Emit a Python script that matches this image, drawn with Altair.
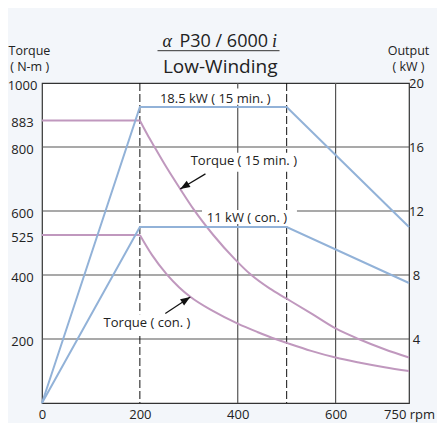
import altair as alt
import pandas as pd

# ---- data ----
rpm_t15 = [0, 200, 215, 230, 255, 282, 310, 350, 395, 426, 465, 500, 550, 600, 647, 700, 750]
nm_t15 = [883, 883, 840, 800, 735, 670, 605, 525, 448, 402, 358, 326, 280, 233, 200, 168, 142]

rpm_tcon = [0, 200, 225, 255, 280, 303, 350, 400, 440, 477, 500, 550, 600, 650, 700, 750]
nm_tcon = [525, 525, 462, 402, 362, 332, 287, 248, 222, 200, 188, 163, 142, 126, 112, 100]

rpm_out = [0, 200, 500, 750]
kw_out15 = [0, 18.5, 18.5, 11]
kw_outcon = [0, 11, 11, 7.5]

torque_ticks = [200, 400, 525, 600, 800, 883, 1000]
output_ticks = [4, 8, 12, 16, 20]
rpm_ticks = [0, 200, 400, 600, 750]

grid_torque = [200, 400, 600, 800]
grid_rpm_solid = [400, 600]
grid_rpm_dashed = [200, 500]

ann_labels = ["18.5 kW ( 15 min. )", "Torque ( 15 min. )", "11 kW ( con. )", "Torque ( con. )"]
ann_rpm = [354, 412.5, 419, 214.5]
ann_nm = [939, 743, 567, 237]

box_rpm1 = [231, 295, 327, 115]
box_rpm2 = [479, 530, 521, 313]
box_nm1 = [983, 782, 603, 277]
box_nm2 = [932, 723, 559, 218]

arr_rpm_tail = [334, 252]
arr_nm_tail = [716, 280]
arr_rpm_head = [282.5, 303]
arr_nm_head = [669, 331]
arr_angle = [238.5, 57]

BLUE = "#92b2d8"
PINK = "#c098be"
INK = "#222222"
FONT = "Open Sans"

xs = alt.Scale(domain=[0, 750], nice=False, zero=False)
ys = alt.Scale(domain=[0, 1000], nice=False, zero=False)
os_ = alt.Scale(domain=[0, 20], nice=False, zero=False)

df_t15 = pd.DataFrame({"rpm": rpm_t15, "nm": nm_t15})
df_tcon = pd.DataFrame({"rpm": rpm_tcon, "nm": nm_tcon})
df_o15 = pd.DataFrame({"rpm": rpm_out, "kw": kw_out15})
df_ocon = pd.DataFrame({"rpm": rpm_out, "kw": kw_outcon})
df_gt = pd.DataFrame({"nm": grid_torque})
df_gs = pd.DataFrame({"rpm": grid_rpm_solid})
df_gd = pd.DataFrame({"rpm": grid_rpm_dashed})
df_ann = pd.DataFrame({"label": ann_labels, "rpm": ann_rpm, "nm": ann_nm})
df_box = pd.DataFrame({"r1": box_rpm1, "r2": box_rpm2, "n1": box_nm1, "n2": box_nm2})
df_arr = pd.DataFrame({"rt": arr_rpm_tail, "nt": arr_nm_tail, "rh": arr_rpm_head,
                       "nh": arr_nm_head, "ang": arr_angle})

x_axis = alt.Axis(values=rpm_ticks, ticks=False, domain=False, grid=False, title=None,
                  labelExpr="datum.value == 750 ? '750 rpm' : datum.label",
                  labelPadding=5, labelFontSize=13, labelFont=FONT, labelColor=INK,
                  labelFlush=False, labelOverlap=False)
y_axis = alt.Axis(values=torque_ticks, orient="left", ticks=False, domain=False, grid=False,
                  title=None, format="d", labelAlign="center", labelPadding=20,
                  labelBaseline="middle", labelOffset=2, labelFontSize=13, labelFont=FONT,
                  labelColor=INK, labelFlush=False, labelOverlap=False)
o_axis = alt.Axis(values=output_ticks, orient="right", ticks=False, domain=False, grid=False,
                  title=None, format="d", labelAlign="center", labelPadding=7,
                  labelBaseline="middle", labelFontSize=13, labelFont=FONT, labelColor=INK,
                  labelFlush=False, labelOverlap=False)


def X(field):
    return alt.X(field, type="quantitative", scale=xs, axis=x_axis)


def Y(field):
    return alt.Y(field, type="quantitative", scale=ys, axis=y_axis)


def O(field):
    return alt.Y(field, type="quantitative", scale=os_, axis=o_axis)


hgrid = alt.Chart(df_gt).mark_rule(color="#555555", strokeWidth=1.2).encode(y=Y("nm"))
vgrid = alt.Chart(df_gs).mark_rule(color="#555555", strokeWidth=1.2).encode(x=X("rpm"))
vdash = alt.Chart(df_gd).mark_rule(color="#111111", strokeWidth=1, strokeDash=[8, 3]).encode(
    x=X("rpm"))

boxes = alt.Chart(df_box).mark_rect(color="white", opacity=1).encode(
    x=X("r1"), x2="r2:Q", y=Y("n1"), y2="n2:Q")

ann = alt.Chart(df_ann).mark_text(align="center", baseline="alphabetic", fontSize=13,
                                  font=FONT, color=INK).encode(
    x=X("rpm"), y=Y("nm"), text="label:N")


def torque_line(df):
    flat = alt.Chart(df).transform_filter("datum.rpm <= 200").mark_line(
        color=PINK, strokeWidth=2).encode(x=X("rpm"), y=Y("nm"))
    curve = alt.Chart(df).transform_filter("datum.rpm >= 200").mark_line(
        color=PINK, strokeWidth=2, interpolate="monotone").encode(x=X("rpm"), y=Y("nm"))
    return [flat, curve]


arr_line = alt.Chart(df_arr).mark_rule(color="#111111", strokeWidth=1.2).encode(
    x=X("rt"), y=Y("nt"), x2="rh:Q", y2="nh:Q")
arr_head = alt.Chart(df_arr).mark_point(shape="M0,0L0.6,1.6L-0.6,1.6Z", filled=True,
                                        color="#111111", size=150, opacity=1).encode(
    x=X("rh"), y=Y("nh"), angle=alt.Angle("ang:Q", scale=None))


def label(txt, x, y, align="left", size=12.5, font=FONT, style="normal"):
    return alt.Chart(pd.DataFrame({"t": [txt]})).mark_text(
        align=align, baseline="alphabetic", fontSize=size, font=font,
        fontStyle=style, color=INK).encode(x=alt.value(x), y=alt.value(y), text="t:N")


titles = [
    label("Torque", -33.5, -28),
    label("( N-m )", -31.8, -12.3),
    label("Output", 366.5, -28, align="center"),
    label("( kW )", 366.5, -12.3, align="center"),
    label("\u03b1", 120.5, -35.7, size=18, font="Liberation Serif", style="italic"),
    label("P30 / 6000", 137.5, -35.7, size=18),
    label("i", 230, -35.7, size=18, font="Liberation Serif", style="italic"),
    label("Low-Winding", 178.2, -10.3, align="center", size=19),
]
underline = alt.Chart(pd.DataFrame({"t": [0]})).mark_rule(color="#333333", strokeWidth=1).encode(
    x=alt.value(115.5), x2=alt.value(237.5), y=alt.value(-32.3))

torque_group = alt.layer(hgrid, vgrid, vdash, boxes, ann, *torque_line(df_t15),
                         *torque_line(df_tcon), arr_line, arr_head, underline, *titles)

o15 = alt.Chart(df_o15).mark_line(color=BLUE, strokeWidth=2).encode(x=X("rpm"), y=O("kw"))
ocon = alt.Chart(df_ocon).mark_line(color=BLUE, strokeWidth=2).encode(x=X("rpm"), y=O("kw"))
output_group = alt.layer(o15, ocon)

chart = alt.layer(torque_group, output_group).resolve_scale(y="independent").properties(
    width=367, height=320,
    padding={"left": 34, "top": 75, "right": 28, "bottom": 25},
    autosize=alt.AutoSizeParams(type="none"),
).configure(background="#f3f6fa").configure_view(
    fill="white", stroke="#333333", strokeWidth=1.2)

chart.save("out.html", embed_options={"renderer": "svg", "actions": False})
